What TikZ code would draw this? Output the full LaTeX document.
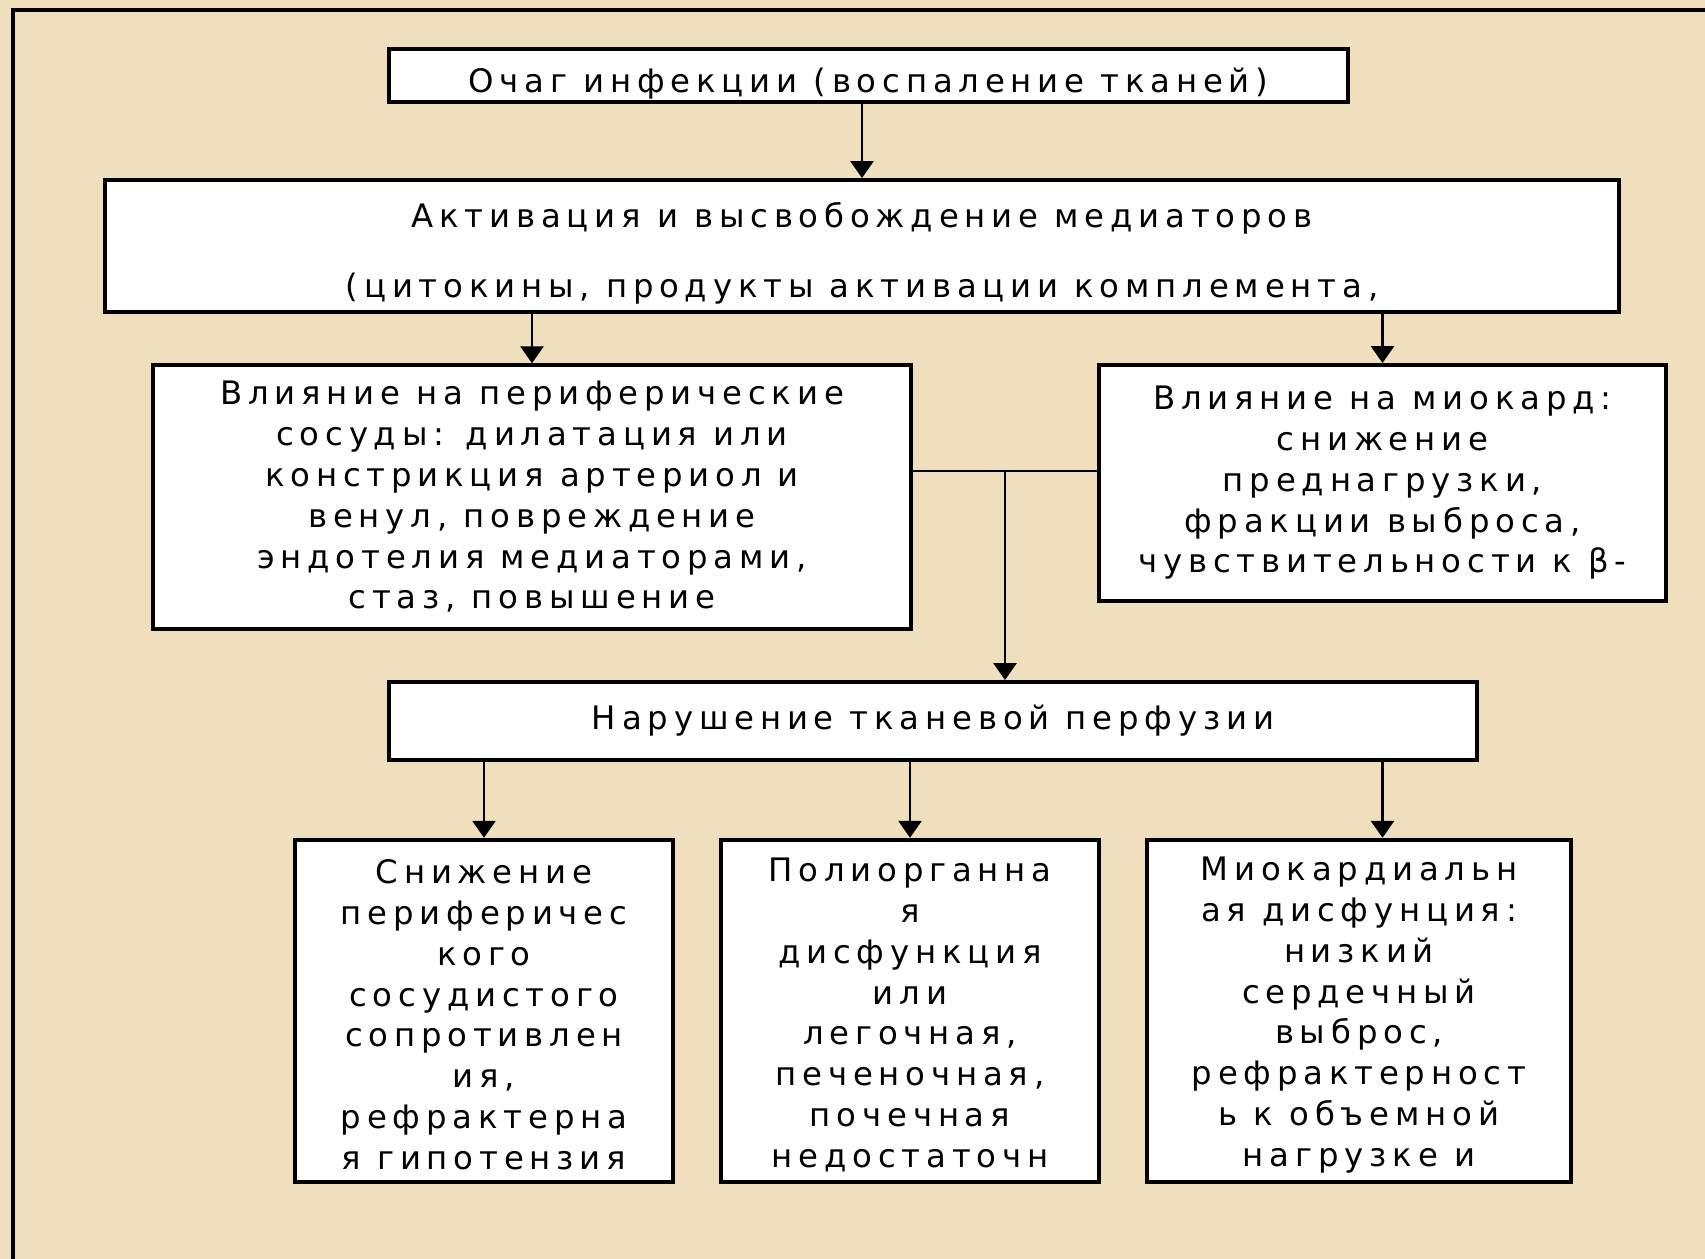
\documentclass[tikz,border=0pt]{standalone}
\usepackage{fontspec}
\setmainfont{DejaVu Sans}[LetterSpace=18]
\usepackage{tikz}
\usetikzlibrary{arrows.meta}

\definecolor{parch}{RGB}{240,223,188}
\tikzset{
	box/.style={draw,fill=white,line width=1.1pt,align=center,inner sep=0pt,font=\fontsize{9.2}{11.6}\selectfont},
}

\begin{document}
\begin{tikzpicture}[thick,>={Triangle[width=2.3mm,length=1.7mm]}]
	\fill[parch] (0,0) rectangle (17.05,12.59);
	\useasboundingbox (0,0) rectangle (17.05,12.59);
	\draw[line width=1.1pt] (0.13,-0.1)--(0.13,12.49)--(17.3,12.49); %outer frame
	
	\node[box,minimum width=9.59cm,minimum height=0.53cm] (ochag) at (8.685,11.835) {\rule{0pt}{11.5pt}Очаг инфекции (воспаление тканей)};
	\node[box,minimum width=15.135cm,minimum height=1.32cm] (mediat) at (8.62,10.13) {\rule{0pt}{11.3pt}Активация и высвобождение медиаторов\\[8.2pt](цитокины, продукты активации комплемента,};
	
	\node[box,minimum width=7.58cm,minimum height=2.635cm] (sosud) at (5.32,7.62) {Влияние на периферические\\сосуды: дилатация или\\констрикция артериол и\\венул, повреждение\\эндотелия медиаторами,\\стаз, повышение};
	\node[box,minimum width=5.67cm,minimum height=2.36cm] (miokard) at (13.825,7.76) {Влияние на миокард:\\снижение\\преднагрузки,\\фракции выброса,\\чувствительности к β-};
	
	\node[box,minimum width=10.88cm,minimum height=0.78cm] (perf) at (9.33,5.38) {Нарушение тканевой перфузии};
	
	%bottom row
	\node[box,minimum width=3.78cm,minimum height=3.425cm] (snizh) at (4.84,2.48) {\rule{0pt}{9pt}Снижение\\периферичес\\кого\\сосудистого\\сопротивлен\\ия,\\рефрактерна\\я гипотензия};
	\node[box,minimum width=3.78cm,minimum height=3.425cm] (poliorg) at (9.10,2.48) {\rule{0pt}{9pt}Полиорганна\\я\\дисфункция\\или\\легочная,\\печеночная,\\почечная\\недостаточн};
	\node[box,minimum width=4.24cm,minimum height=3.425cm] (miodis) at (13.59,2.48) {\rule{0pt}{9pt}Миокардиальн\\ая дисфунция:\\низкий\\сердечный\\выброс,\\рефрактерност\\ь к объемной\\нагрузке и};
	
	\draw[->] (ochag.south -| mediat.north)--(mediat.north);
	\foreach \b in {sosud,miokard}{
		\draw[->] (mediat.south -| \b.north)--(\b.north);
	}
	\coordinate (jn) at (10.05,7.88);
	\draw (jn -| sosud.east)--(jn -| miokard.west);
	\draw[->] (jn)--(jn |- perf.north);
	\foreach \b in {snizh,poliorg}{
		\draw[->] (perf.south -| \b.north)--(\b.north);
	}
	\draw[->] (perf.south -| miokard.south)--(miodis.north -| miokard.south);
\end{tikzpicture}
\end{document}
